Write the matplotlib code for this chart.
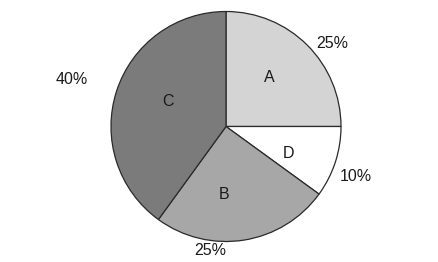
import matplotlib
matplotlib.use("Agg")
import matplotlib.pyplot as plt
import numpy as np

categories = ["A", "D", "B", "C"]
values = [25, 10, 25, 40]
pct_labels = ["25%", "10%", "25%", "40%"]
colors = ["#d4d4d4", "#ffffff", "#a7a7a7", "#7b7b7b"]

plt.rcParams['font.family'] = ['Liberation Sans', 'DejaVu Sans']

fig = plt.figure(figsize=(4.38, 2.62), dpi=100)
ax = fig.add_axes([0, 0, 1, 1])
W, H = 438, 262
cx, cy, R = 226, H - 126.5, 115

wedges, _ = ax.pie(values, colors=colors, startangle=90, counterclock=False,
                   center=(cx, cy), radius=R, frame=True,
                   wedgeprops=dict(edgecolor="#2a2a2a", linewidth=0.9))

# label placement: (angle offset from wedge mid in degrees, distance in radii)
inner_pos = [(4, 0.57), (-5, 0.59), (-11, 0.59), (-5, 0.55)]
outer_pos = [(-7, 1.17), (-3, 1.21), (-16, 1.09), (1, 1.40)]
for w, cat, pl, ip, op in zip(wedges, categories, pct_labels, inner_pos, outer_pos):
    mid = 0.5 * (w.theta1 + w.theta2)
    a = np.deg2rad(mid + ip[0])
    ax.text(cx + ip[1] * R * np.cos(a), cy + ip[1] * R * np.sin(a), cat,
            ha="center", va="center", fontsize=11.5, color="#1a1a1a")
    a = np.deg2rad(mid + op[0])
    ax.text(cx + op[1] * R * np.cos(a), cy + op[1] * R * np.sin(a), pl,
            ha="center", va="center", fontsize=11.5, color="#1a1a1a")

ax.set_xlim(0, W)
ax.set_ylim(0, H)
ax.set_aspect("equal")
ax.axis("off")
fig.savefig("out.png", dpi=100, facecolor="white")
